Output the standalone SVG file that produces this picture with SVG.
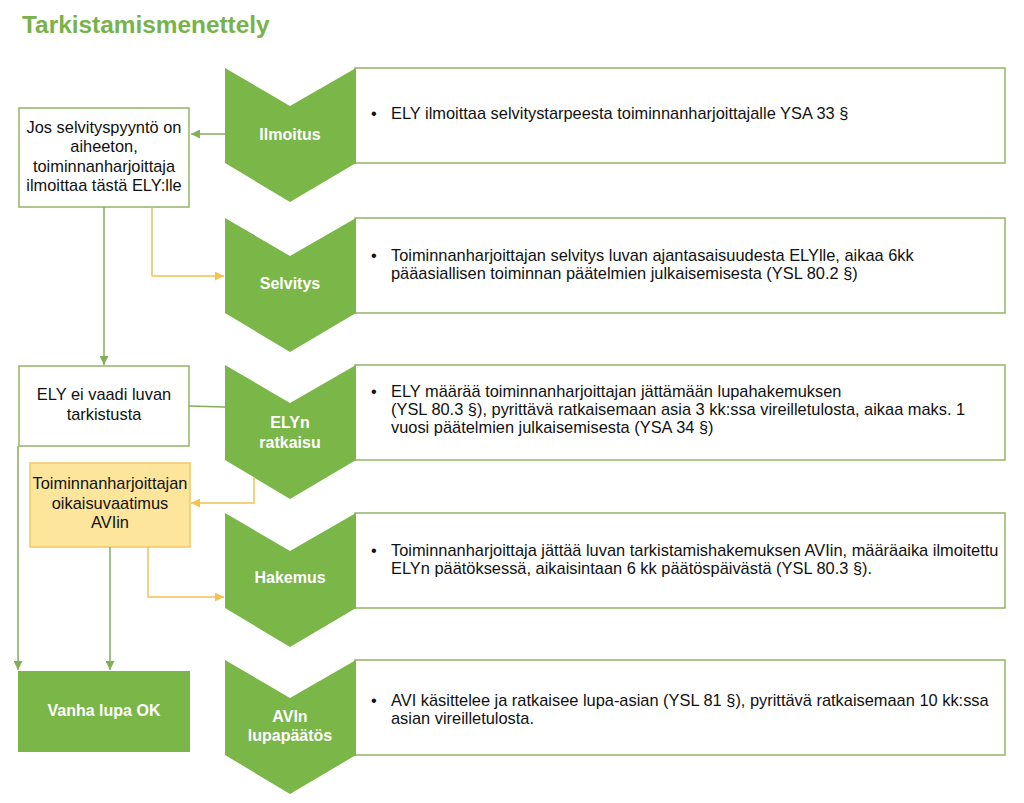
<svg xmlns="http://www.w3.org/2000/svg" width="1024" height="803" viewBox="0 0 1024 803">
<defs>
<style>
.title{font-family:"Liberation Sans",Arial,sans-serif;font-weight:bold;font-size:24.4px;fill:#78b24a}
.chev{fill:#7ab648}
.clab{font-family:"Liberation Sans",Arial,sans-serif;font-weight:bold;font-size:16px;fill:#ffffff;text-anchor:middle}
.box{fill:#ffffff;stroke:#93b466;stroke-width:1.5}
.ybox{fill:#fde59b;stroke:#f3c760;stroke-width:1.5}
.gbox{fill:#7ab648}
.txt{font-family:"Liberation Sans",Arial,sans-serif;font-size:16.4px;fill:#111111}
.ctr{text-anchor:middle}
.gl{fill:none;stroke:#84ad5a;stroke-width:1.5}
.yl{fill:none;stroke:#f2c44e;stroke-width:1.5}
</style>
<marker id="ag" viewBox="0 0 10 10" refX="10" refY="5" markerWidth="9" markerHeight="9" markerUnits="userSpaceOnUse" orient="auto"><path d="M0,0 L10,5 L0,10 Z" fill="#84ad5a"/></marker>
<marker id="ay" viewBox="0 0 10 10" refX="10" refY="5" markerWidth="9" markerHeight="9" markerUnits="userSpaceOnUse" orient="auto"><path d="M0,0 L10,5 L0,10 Z" fill="#f2c44e"/></marker>
</defs>
<rect width="1024" height="803" fill="#ffffff"/>
<text class="title" x="22" y="33">Tarkistamismenettely</text>

<g id="step1">
<rect class="box" x="355" y="68" width="650" height="95"/>
<path class="chev" d="M225,68 L290,106 L356,68 L356,163 L290,202 L225,163 Z"/>
<text class="clab" x="290" y="140">Ilmoitus</text>
<text class="txt" x="371" y="119">•</text>
<text class="txt" x="391" y="119">ELY ilmoittaa selvitystarpeesta toiminnanharjoittajalle YSA 33 §</text>
</g>

<g id="step2">
<rect class="box" x="355" y="218" width="650" height="95"/>
<path class="chev" d="M225,218 L290,256 L356,218 L356,313 L290,352 L225,313 Z"/>
<text class="clab" x="290" y="289">Selvitys</text>
<text class="txt" x="371" y="261">•</text>
<text class="txt" x="391" y="261">Toiminnanharjoittajan selvitys luvan ajantasaisuudesta ELYlle, aikaa 6kk</text>
<text class="txt" x="391" y="279">pääasiallisen toiminnan päätelmien julkaisemisesta (YSL 80.2 §)</text>
</g>

<g id="step3">
<rect class="box" x="355" y="365" width="650" height="95"/>
<path class="chev" d="M225,365 L290,403 L356,365 L356,460 L290,499 L225,460 Z"/>
<text class="clab" x="290" y="428">ELYn</text>
<text class="clab" x="290" y="448">ratkaisu</text>
<text class="txt" x="371" y="397">•</text>
<text class="txt" x="391" y="397">ELY määrää toiminnanharjoittajan jättämään lupahakemuksen</text>
<text class="txt" x="391" y="415">(YSL 80.3 §), pyrittävä ratkaisemaan asia 3 kk:ssa vireilletulosta, aikaa maks. 1</text>
<text class="txt" x="391" y="433">vuosi päätelmien julkaisemisesta (YSA 34 §)</text>
</g>

<g id="step4">
<rect class="box" x="355" y="513" width="650" height="95"/>
<path class="chev" d="M225,513 L290,551 L356,513 L356,608 L290,647 L225,608 Z"/>
<text class="clab" x="290" y="583">Hakemus</text>
<text class="txt" x="371" y="556">•</text>
<text class="txt" x="391" y="556">Toiminnanharjoittaja jättää luvan tarkistamishakemuksen AVIin, määräaika ilmoitettu</text>
<text class="txt" x="391" y="574">ELYn päätöksessä, aikaisintaan 6 kk päätöspäivästä (YSL 80.3 §).</text>
</g>

<g id="step5">
<rect class="box" x="355" y="660" width="650" height="95"/>
<path class="chev" d="M225,660 L290,698 L356,660 L356,755 L290,794 L225,755 Z"/>
<text class="clab" x="290" y="722">AVIn</text>
<text class="clab" x="290" y="741">lupapäätös</text>
<text class="txt" x="371" y="706">•</text>
<text class="txt" x="391" y="706">AVI käsittelee ja ratkaisee lupa-asian (YSL 81 §), pyrittävä ratkaisemaan 10 kk:ssa</text>
<text class="txt" x="391" y="724">asian vireilletulosta.</text>
</g>

<g id="n-aiheeton">
<rect class="box" x="19" y="108" width="170" height="99"/>
<text class="txt ctr" x="104" y="133">Jos selvityspyyntö on</text>
<text class="txt ctr" x="104" y="152">aiheeton,</text>
<text class="txt ctr" x="104" y="172">toiminnanharjoittaja</text>
<text class="txt ctr" x="104" y="191">ilmoittaa tästä ELY:lle</text>
</g>

<g id="n-eivaadi">
<rect class="box" x="19" y="366" width="170" height="80"/>
<text class="txt ctr" x="104" y="400">ELY ei vaadi luvan</text>
<text class="txt ctr" x="104" y="420">tarkistusta</text>
</g>

<g id="n-oikaisu">
<rect class="ybox" x="30" y="463" width="160" height="84"/>
<text class="txt ctr" x="110" y="489">Toiminnanharjoittajan</text>
<text class="txt ctr" x="110" y="509">oikaisuvaatimus</text>
<text class="txt ctr" x="110" y="528">AVIin</text>
</g>

<g id="n-vanha">
<rect class="gbox" x="18" y="671" width="172" height="81"/>
<text class="clab" x="104" y="716">Vanha lupa OK</text>
</g>

<g id="connectors">
<path class="gl" d="M225,134 L191,134" marker-end="url(#ag)"/>
<path class="gl" d="M104,207 L104,365" marker-end="url(#ag)"/>
<path class="yl" d="M152,207 L152,276 L224,276" marker-end="url(#ay)"/>
<path class="gl" d="M189,406 L225,407"/>
<path class="gl" d="M18,446 L18,670" marker-end="url(#ag)"/>
<path class="yl" d="M254,477 L254,503 L191,503" marker-end="url(#ay)"/>
<path class="yl" d="M148,547 L148,597 L224,597" marker-end="url(#ay)"/>
<path class="gl" d="M110,547 L110,670" marker-end="url(#ag)"/>
</g>
</svg>
